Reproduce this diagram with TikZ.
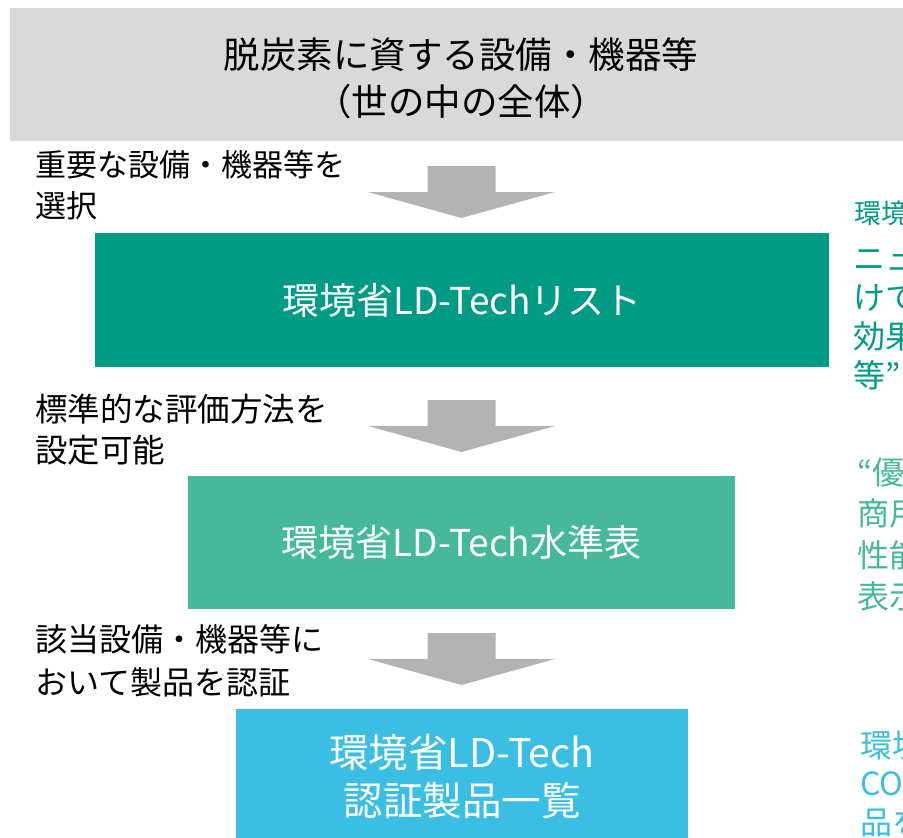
\documentclass[tikz,border=0pt]{standalone}
\usepackage{fontspec}
\setmainfont{Noto Sans CJK JP}
\usepackage{xcolor}
\usepackage{tikz}
\usetikzlibrary{positioning,calc}

\definecolor{topgray}{RGB}{217,217,217}
\definecolor{arrgray}{RGB}{179,179,179}
\definecolor{listteal}{RGB}{0,155,133}
\definecolor{levelgreen}{RGB}{69,185,154}
\definecolor{certblue}{RGB}{59,190,227}

\begin{document}
\begin{tikzpicture}[x=1pt,y=-1pt,
    box/.style={rectangle, inner sep=0pt, text=white, align=center, font=\fontsize{37}{48}\selectfont},
    lbl/.style={anchor=west, inner sep=0pt, align=left, font=\fontsize{32}{41}\selectfont},
    note/.style={anchor=west, inner sep=0pt, align=left, font=\fontsize{32}{39}\selectfont}]
    \clip (0,0) rectangle (903,838);

    % Top band
    \fill[topgray] (10,8) rectangle (910,141);
    \node[inner sep=0pt, align=center, font=\fontsize{36.5}{47}\selectfont] (title) at (461,78)
        {脱炭素に資する設備・機器等\\（世の中の全体）};

    % Boxes
    \node[box, fill=listteal, minimum width=734, minimum height=134] (list) at (462,300) {環境省LD-Techリスト};
    \node[box, fill=levelgreen, minimum width=547, minimum height=133] (level) at (461.5,542.5) {環境省LD-Tech水準表};
    \node[box, fill=certblue, minimum width=452, minimum height=136, font=\fontsize{39.5}{48}\selectfont] (cert) at (462,777) {環境省LD-Tech\\認証製品一覧};

    % Block arrows
    \coordinate (arr1) at (461.5,166);
    \coordinate (arr2) at (461.5,400);
    \coordinate (arr3) at (461.5,633);
    \foreach \a in {arr1,arr2,arr3}
        \fill[arrgray, shift={(\a)}] (-34,0) -- (34,0) -- (34,26) -- (93.5,26) -- (0,52) -- (-93.5,26) -- (-34,26) -- cycle;

    % Step labels
    \node[lbl, font=\fontsize{31}{41}\selectfont] (lbl1) at (35,185) {重要な設備・機器等を\\選択};
    \node[lbl, font=\fontsize{32.5}{41}\selectfont] (lbl2) at (35,430) {標準的な評価方法を\\設定可能};
    \node[lbl, font=\fontsize{32}{43}\selectfont] (lbl3) at (35,661) {該当設備・機器等に\\おいて製品を認証};

    % Notes on the right (cut off)
    \node[note, text=listteal, font=\fontsize{27}{30}\selectfont] (note0) at (854,213) {環境};
    \node[note, text=listteal] (note1) at (853,320) {ニュ\\けて\\効果\\等”};
    \node[note, text=levelgreen, font=\fontsize{32}{41.5}\selectfont] (note2) at (857,534.5) {“優\\商用\\性能\\表示};
    \node[note, text=certblue, font=\fontsize{32}{38.5}\selectfont] (note3) at (860,783.5) {環境\\CO\\品を};
\end{tikzpicture}
\end{document}
